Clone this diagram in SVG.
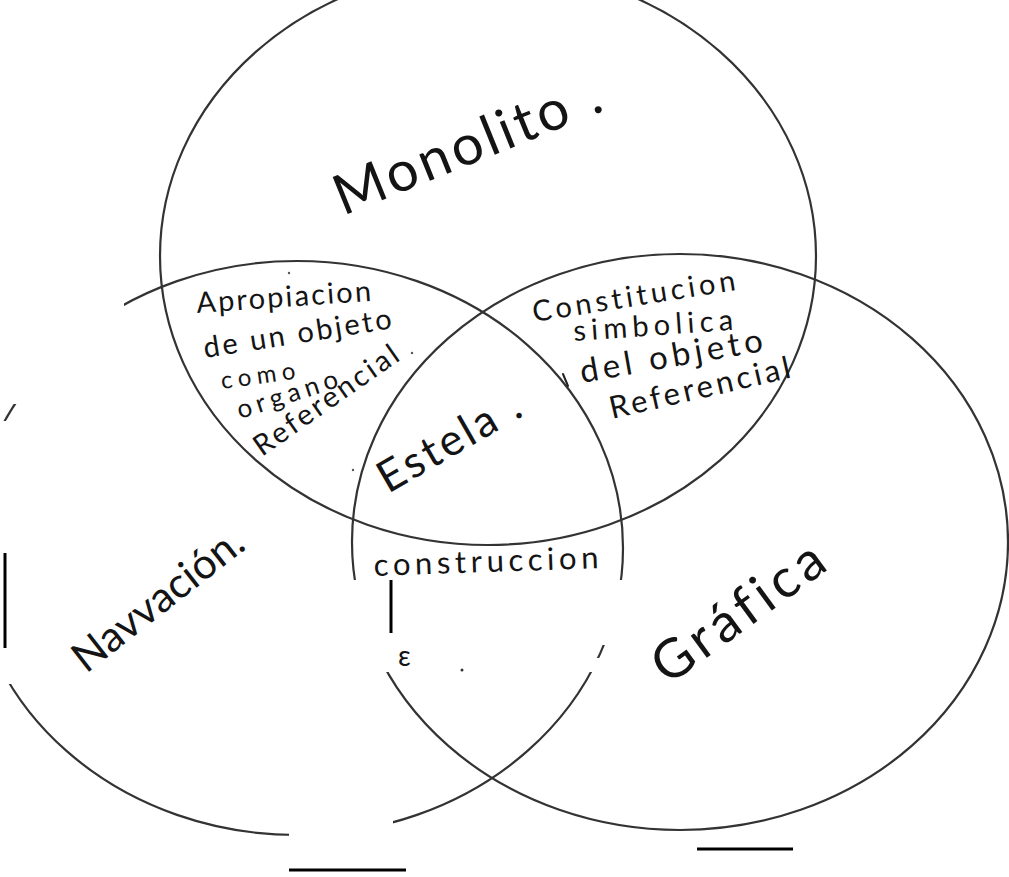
<svg xmlns="http://www.w3.org/2000/svg" width="1009" height="877" viewBox="0 0 1009 877">
  <style>
    .set { fill: none; stroke: #333; stroke-width: 2.2; }
    .hw { font-family: Lato, "Open Sans", "Liberation Sans", sans-serif; fill: #141414; font-weight: 400; font-variant-ligatures: none; }
    .bar { stroke: #000; stroke-width: 3; fill: none; }
    .mark { stroke: #222; stroke-width: 2; fill: none; stroke-linecap: round; }
  </style>
  <defs>
    <mask id="erase" maskUnits="userSpaceOnUse" x="-100" y="-100" width="1210" height="1080">
      <rect x="-100" y="-100" width="1210" height="1080" fill="#fff"/>
      <rect x="-60" y="290" width="184" height="114" fill="#000"/>
      <rect x="-60" y="421" width="85" height="263" fill="#000"/>
      <rect x="330" y="580" width="310" height="65" fill="#000"/>
      <rect x="330" y="645" width="260" height="27" fill="#000"/>
      <rect x="590" y="658" width="50" height="14" fill="#000"/>
      <rect x="289" y="800" width="104" height="60" fill="#000"/>
    </mask>
  </defs>
  <rect width="1009" height="877" fill="#fff"/>

  <g id="monolito">
    <ellipse class="set" cx="488" cy="256" rx="328" ry="289" mask="url(#erase)"/>
    <text class="hw" font-size="56" textLength="283" lengthAdjust="spacing" transform="translate(343,216) rotate(-22)">Monolito .</text>
  </g>

  <g id="narracion">
    <ellipse class="set" cx="297" cy="548" rx="326" ry="287" mask="url(#erase)"/>
    <text class="hw" font-size="42" textLength="205" lengthAdjust="spacing" transform="translate(86,674) rotate(-38)">Navvación.</text>
  </g>

  <g id="grafica">
    <ellipse class="set" cx="680" cy="542" rx="328" ry="288" mask="url(#erase)"/>
    <text class="hw" font-size="54" textLength="200" lengthAdjust="spacing" transform="translate(668,686) rotate(-36)">Gráfica</text>
  </g>

  <g id="apropiacion">
    <text class="hw" font-size="29" textLength="175" lengthAdjust="spacing" transform="translate(197,313) rotate(-4)">Apropiacion</text>
    <text class="hw" font-size="29" textLength="190" lengthAdjust="spacing" transform="translate(205,358) rotate(-9)">de un objeto</text>
    <text class="hw" font-size="24" textLength="75" lengthAdjust="spacing" transform="translate(222,389) rotate(-8)">como</text>
    <text class="hw" font-size="26" textLength="105" lengthAdjust="spacing" transform="translate(240,419) rotate(-18)">organo</text>
    <text class="hw" font-size="29" textLength="170" lengthAdjust="spacing" transform="translate(262,457) rotate(-35)">Referencial</text>
  </g>

  <g id="constitucion">
    <text class="hw" font-size="29" textLength="205" lengthAdjust="spacing" transform="translate(534,322) rotate(-9)">Constitucion</text>
    <text class="hw" font-size="29" textLength="160" lengthAdjust="spacing" transform="translate(574,341) rotate(-4)">simbolica</text>
    <text class="hw" font-size="33" textLength="185" lengthAdjust="spacing" transform="translate(582,383) rotate(-10)">del objeto</text>
    <text class="hw" font-size="31" textLength="185" lengthAdjust="spacing" transform="translate(612,419) rotate(-13)">Referencial</text>
  </g>

  <g id="estela">
    <text class="hw" font-size="44" textLength="158" lengthAdjust="spacing" transform="translate(388,494) rotate(-30)">Estela .</text>
  </g>

  <g id="construccion">
    <text class="hw" font-size="31" textLength="225" lengthAdjust="spacing" transform="translate(374,576) rotate(-2)">construccion</text>
    <text class="hw" font-size="28" x="398" y="666">ε</text>
  </g>

  <g id="connectors">
    <line class="bar" x1="5" y1="553" x2="5" y2="648"/>
    <line class="bar" x1="391" y1="580" x2="391" y2="633"/>
    <line class="bar" x1="289" y1="870" x2="406" y2="870"/>
    <line class="bar" x1="697" y1="849" x2="793" y2="849"/>
    <path class="mark" d="M563,374 L568,386"/>
    <circle cx="289" cy="273" r="1.2" fill="#555"/>
    <circle cx="353" cy="470" r="1.2" fill="#555"/>
    <circle cx="412" cy="353" r="1.2" fill="#555"/>
    <circle cx="462" cy="670" r="1.5" fill="#333"/>
  </g>
</svg>
